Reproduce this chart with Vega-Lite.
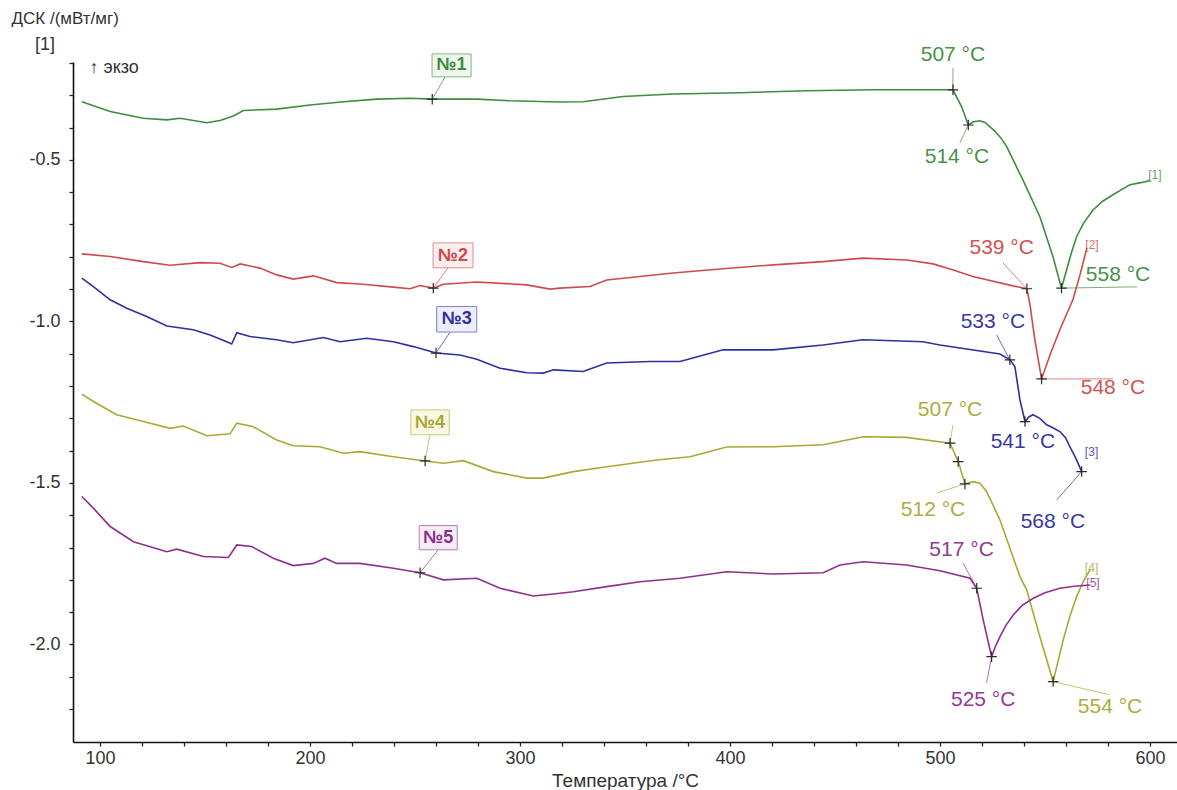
{
  "$schema": "https://vega.github.io/schema/vega-lite/v6.json",
  "width": 1104,
  "height": 680,
  "autosize": "none",
  "padding": {"left": 73, "top": 62, "right": 0, "bottom": 48},
  "background": "white",
  "config": {
    "view": {"stroke": null},
    "font": "Liberation Sans",
    "axis": {
      "domainColor": "#111",
      "domainWidth": 1.6,
      "tickColor": "#222",
      "tickSize": 4,
      "tickWidth": 1.3,
      "grid": false,
      "labelColor": "#333",
      "labelFont": "Liberation Sans",
      "titleFont": "Liberation Sans",
      "titleFontWeight": "normal",
      "titleColor": "#333"
    }
  },
  "datasets": {
    "curves": [
      {"s":"1","t":91.3,"v":-0.320},{"s":"1","t":104.8,"v":-0.350},{"s":"1","t":120.6,"v":-0.371},{"s":"1","t":131.8,"v":-0.376},{"s":"1","t":138.1,"v":-0.371},{"s":"1","t":150.8,"v":-0.385},{"s":"1","t":157.1,"v":-0.378},{"s":"1","t":163.5,"v":-0.364},{"s":"1","t":168.2,"v":-0.347},{"s":"1","t":184.1,"v":-0.343},{"s":"1","t":200,"v":-0.330},{"s":"1","t":215.9,"v":-0.320},{"s":"1","t":231.8,"v":-0.312},{"s":"1","t":247.6,"v":-0.309},{"s":"1","t":258.2,"v":-0.312},{"s":"1","t":279.4,"v":-0.312},{"s":"1","t":295.2,"v":-0.317},{"s":"1","t":319,"v":-0.321},{"s":"1","t":330,"v":-0.320},{"s":"1","t":349,"v":-0.304},{"s":"1","t":372.9,"v":-0.296},{"s":"1","t":404.8,"v":-0.292},{"s":"1","t":436.7,"v":-0.286},{"s":"1","t":468.1,"v":-0.283},{"s":"1","t":506.2,"v":-0.283},{"s":"1","t":510.3,"v":-0.335},{"s":"1","t":513.5,"v":-0.392},{"s":"1","t":516,"v":-0.382},{"s":"1","t":519,"v":-0.379},{"s":"1","t":521.5,"v":-0.384},{"s":"1","t":526,"v":-0.410},{"s":"1","t":529,"v":-0.432},{"s":"1","t":531.8,"v":-0.459},{"s":"1","t":539.5,"v":-0.562},{"s":"1","t":547.6,"v":-0.676},{"s":"1","t":553.8,"v":-0.799},{"s":"1","t":557.9,"v":-0.897},{"s":"1","t":560.3,"v":-0.841},{"s":"1","t":562.5,"v":-0.790},{"s":"1","t":565.1,"v":-0.737},{"s":"1","t":568.5,"v":-0.695},{"s":"1","t":572.9,"v":-0.655},{"s":"1","t":577.5,"v":-0.628},{"s":"1","t":582.4,"v":-0.608},{"s":"1","t":586.5,"v":-0.592},{"s":"1","t":590.5,"v":-0.577},{"s":"1","t":594.5,"v":-0.572},{"s":"1","t":598.4,"v":-0.567},{"s":"1","t":600,"v":-0.562},
      {"s":"2","t":91.3,"v":-0.791},{"s":"2","t":104.8,"v":-0.799},{"s":"2","t":120.6,"v":-0.815},{"s":"2","t":133.3,"v":-0.826},{"s":"2","t":147.6,"v":-0.818},{"s":"2","t":157.1,"v":-0.820},{"s":"2","t":162.7,"v":-0.833},{"s":"2","t":166.7,"v":-0.822},{"s":"2","t":176.2,"v":-0.835},{"s":"2","t":184.1,"v":-0.856},{"s":"2","t":192,"v":-0.869},{"s":"2","t":201.6,"v":-0.859},{"s":"2","t":212.7,"v":-0.880},{"s":"2","t":223.8,"v":-0.884},{"s":"2","t":239.7,"v":-0.894},{"s":"2","t":247.6,"v":-0.899},{"s":"2","t":252.4,"v":-0.889},{"s":"2","t":258.7,"v":-0.897},{"s":"2","t":263.5,"v":-0.885},{"s":"2","t":279.4,"v":-0.878},{"s":"2","t":303.2,"v":-0.887},{"s":"2","t":314.3,"v":-0.900},{"s":"2","t":319,"v":-0.897},{"s":"2","t":333.3,"v":-0.892},{"s":"2","t":341.3,"v":-0.872},{"s":"2","t":372.9,"v":-0.850},{"s":"2","t":396.7,"v":-0.837},{"s":"2","t":420.5,"v":-0.825},{"s":"2","t":444.3,"v":-0.815},{"s":"2","t":463.3,"v":-0.804},{"s":"2","t":484.3,"v":-0.810},{"s":"2","t":496.7,"v":-0.822},{"s":"2","t":506,"v":-0.840},{"s":"2","t":515.7,"v":-0.861},{"s":"2","t":534.8,"v":-0.890},{"s":"2","t":541.4,"v":-0.899},{"s":"2","t":542.9,"v":-0.949},{"s":"2","t":545.2,"v":-1.057},{"s":"2","t":548.4,"v":-1.178},{"s":"2","t":552.4,"v":-1.104},{"s":"2","t":557.1,"v":-1.026},{"s":"2","t":563.3,"v":-0.933},{"s":"2","t":566.7,"v":-0.856},{"s":"2","t":570,"v":-0.772},
      {"s":"3","t":91.3,"v":-0.866},{"s":"3","t":96.8,"v":-0.892},{"s":"3","t":104.8,"v":-0.933},{"s":"3","t":112.7,"v":-0.959},{"s":"3","t":122.2,"v":-0.985},{"s":"3","t":131.8,"v":-1.014},{"s":"3","t":144.4,"v":-1.026},{"s":"3","t":152.4,"v":-1.042},{"s":"3","t":160.3,"v":-1.063},{"s":"3","t":162.7,"v":-1.070},{"s":"3","t":165.1,"v":-1.035},{"s":"3","t":171.4,"v":-1.047},{"s":"3","t":184.1,"v":-1.057},{"s":"3","t":192,"v":-1.066},{"s":"3","t":206.3,"v":-1.050},{"s":"3","t":214.3,"v":-1.063},{"s":"3","t":227,"v":-1.052},{"s":"3","t":239.7,"v":-1.063},{"s":"3","t":249.2,"v":-1.078},{"s":"3","t":260,"v":-1.098},{"s":"3","t":271.4,"v":-1.104},{"s":"3","t":279.4,"v":-1.117},{"s":"3","t":290.5,"v":-1.145},{"s":"3","t":303.2,"v":-1.159},{"s":"3","t":311.1,"v":-1.160},{"s":"3","t":315.9,"v":-1.150},{"s":"3","t":330,"v":-1.155},{"s":"3","t":341.3,"v":-1.129},{"s":"3","t":361.9,"v":-1.124},{"s":"3","t":376.2,"v":-1.124},{"s":"3","t":396.7,"v":-1.088},{"s":"3","t":420.5,"v":-1.088},{"s":"3","t":444.3,"v":-1.073},{"s":"3","t":463.3,"v":-1.057},{"s":"3","t":491.9,"v":-1.063},{"s":"3","t":500,"v":-1.073},{"s":"3","t":528.6,"v":-1.101},{"s":"3","t":533.3,"v":-1.119},{"s":"3","t":535.7,"v":-1.140},{"s":"3","t":538.1,"v":-1.243},{"s":"3","t":540.5,"v":-1.310},{"s":"3","t":542.5,"v":-1.295},{"s":"3","t":544.3,"v":-1.289},{"s":"3","t":547.6,"v":-1.300},{"s":"3","t":550.8,"v":-1.320},{"s":"3","t":554,"v":-1.330},{"s":"3","t":557.1,"v":-1.341},{"s":"3","t":559.8,"v":-1.360},{"s":"3","t":561.9,"v":-1.388},{"s":"3","t":564.8,"v":-1.425},{"s":"3","t":567.5,"v":-1.465},
      {"s":"4","t":91.3,"v":-1.225},{"s":"4","t":96.8,"v":-1.248},{"s":"4","t":107.9,"v":-1.289},{"s":"4","t":120.6,"v":-1.310},{"s":"4","t":133.3,"v":-1.331},{"s":"4","t":139.7,"v":-1.324},{"s":"4","t":150.8,"v":-1.354},{"s":"4","t":161.9,"v":-1.348},{"s":"4","t":165.1,"v":-1.315},{"s":"4","t":173,"v":-1.326},{"s":"4","t":184.1,"v":-1.367},{"s":"4","t":192,"v":-1.385},{"s":"4","t":204.8,"v":-1.388},{"s":"4","t":215.9,"v":-1.408},{"s":"4","t":223.8,"v":-1.403},{"s":"4","t":239.7,"v":-1.419},{"s":"4","t":254.8,"v":-1.432},{"s":"4","t":263.5,"v":-1.439},{"s":"4","t":273,"v":-1.431},{"s":"4","t":287.3,"v":-1.465},{"s":"4","t":303.2,"v":-1.485},{"s":"4","t":310.9,"v":-1.485},{"s":"4","t":325.4,"v":-1.465},{"s":"4","t":341.3,"v":-1.450},{"s":"4","t":365.1,"v":-1.429},{"s":"4","t":381,"v":-1.419},{"s":"4","t":398.4,"v":-1.389},{"s":"4","t":420.6,"v":-1.388},{"s":"4","t":444.4,"v":-1.382},{"s":"4","t":463.5,"v":-1.357},{"s":"4","t":484.1,"v":-1.359},{"s":"4","t":504.8,"v":-1.377},{"s":"4","t":508.7,"v":-1.434},{"s":"4","t":511.9,"v":-1.503},{"s":"4","t":515.9,"v":-1.496},{"s":"4","t":519,"v":-1.501},{"s":"4","t":522,"v":-1.525},{"s":"4","t":525,"v":-1.565},{"s":"4","t":528.6,"v":-1.615},{"s":"4","t":538.1,"v":-1.790},{"s":"4","t":541.3,"v":-1.831},{"s":"4","t":547.6,"v":-1.976},{"s":"4","t":553.9,"v":-2.115},{"s":"4","t":558.7,"v":-1.986},{"s":"4","t":562,"v":-1.910},{"s":"4","t":565.1,"v":-1.852},{"s":"4","t":568.2,"v":-1.806},{"s":"4","t":571.4,"v":-1.769},
      {"s":"5","t":91.3,"v":-1.542},{"s":"5","t":96.8,"v":-1.578},{"s":"5","t":104.8,"v":-1.635},{"s":"5","t":115.9,"v":-1.682},{"s":"5","t":131.8,"v":-1.713},{"s":"5","t":136.5,"v":-1.705},{"s":"5","t":149.2,"v":-1.728},{"s":"5","t":161.1,"v":-1.731},{"s":"5","t":165.1,"v":-1.692},{"s":"5","t":172.2,"v":-1.697},{"s":"5","t":182.5,"v":-1.733},{"s":"5","t":192,"v":-1.756},{"s":"5","t":201.6,"v":-1.749},{"s":"5","t":207.1,"v":-1.733},{"s":"5","t":212.7,"v":-1.749},{"s":"5","t":223.8,"v":-1.749},{"s":"5","t":239.7,"v":-1.764},{"s":"5","t":252.4,"v":-1.778},{"s":"5","t":263.5,"v":-1.800},{"s":"5","t":279.4,"v":-1.795},{"s":"5","t":290.5,"v":-1.826},{"s":"5","t":306.3,"v":-1.850},{"s":"5","t":315.9,"v":-1.844},{"s":"5","t":325.4,"v":-1.837},{"s":"5","t":341.3,"v":-1.821},{"s":"5","t":357.1,"v":-1.806},{"s":"5","t":376.2,"v":-1.795},{"s":"5","t":398.4,"v":-1.775},{"s":"5","t":420.6,"v":-1.782},{"s":"5","t":444.4,"v":-1.778},{"s":"5","t":452.4,"v":-1.754},{"s":"5","t":463.5,"v":-1.744},{"s":"5","t":484.1,"v":-1.754},{"s":"5","t":500,"v":-1.772},{"s":"5","t":514.3,"v":-1.795},{"s":"5","t":517.5,"v":-1.826},{"s":"5","t":520.6,"v":-1.924},{"s":"5","t":524.6,"v":-2.038},{"s":"5","t":526.5,"v":-2.005},{"s":"5","t":528.6,"v":-1.976},{"s":"5","t":531.5,"v":-1.940},{"s":"5","t":534.9,"v":-1.909},{"s":"5","t":539,"v":-1.880},{"s":"5","t":544.4,"v":-1.857},{"s":"5","t":550,"v":-1.840},{"s":"5","t":557.1,"v":-1.826},{"s":"5","t":564,"v":-1.820},{"s":"5","t":571.4,"v":-1.816}
    ],
    "markers": [
      {"s":"1","t":258.2,"v":-0.312},{"s":"1","t":506.2,"v":-0.283},{"s":"1","t":513.5,"v":-0.392},{"s":"1","t":557.9,"v":-0.897},
      {"s":"2","t":258.7,"v":-0.897},{"s":"2","t":541.4,"v":-0.899},{"s":"2","t":548.4,"v":-1.178},
      {"s":"3","t":260,"v":-1.098},{"s":"3","t":533.3,"v":-1.119},{"s":"3","t":540.5,"v":-1.310},{"s":"3","t":567.5,"v":-1.465},
      {"s":"4","t":254.8,"v":-1.432},{"s":"4","t":504.8,"v":-1.377},{"s":"4","t":508.7,"v":-1.434},{"s":"4","t":511.9,"v":-1.503},{"s":"4","t":553.9,"v":-2.115},
      {"s":"5","t":252.4,"v":-1.778},{"s":"5","t":517.5,"v":-1.826},{"s":"5","t":524.6,"v":-2.038}
    ],
    "leaders": [
      {"s":"1","t":258.2,"v":-0.312,"t2":264.3,"v2":-0.243},
      {"s":"1","t":506.2,"v":-0.283,"t2":506.2,"v2":-0.215},
      {"s":"1","t":513.5,"v":-0.392,"t2":509.5,"v2":-0.447},
      {"s":"1","t":557.9,"v":-0.897,"t2":593.8,"v2":-0.893},
      {"s":"2","t":258.7,"v":-0.897,"t2":265.7,"v2":-0.834},
      {"s":"2","t":541.4,"v":-0.899,"t2":530,"v2":-0.819},
      {"s":"2","t":548.4,"v":-1.178,"t2":582.4,"v2":-1.178},
      {"s":"3","t":260,"v":-1.098,"t2":266.7,"v2":-1.033},
      {"s":"3","t":533.3,"v":-1.119,"t2":527,"v2":-1.042},
      {"s":"3","t":567.5,"v":-1.465,"t2":555.6,"v2":-1.553},
      {"s":"4","t":254.8,"v":-1.432,"t2":257.1,"v2":-1.351},
      {"s":"4","t":504.8,"v":-1.377,"t2":506.2,"v2":-1.320},
      {"s":"4","t":511.9,"v":-1.503,"t2":498.6,"v2":-1.531},
      {"s":"4","t":553.9,"v":-2.115,"t2":581,"v2":-2.156},
      {"s":"5","t":252.4,"v":-1.778,"t2":261,"v2":-1.707},
      {"s":"5","t":517.5,"v":-1.826,"t2":511,"v2":-1.748},
      {"s":"5","t":524.6,"v":-2.038,"t2":522.2,"v2":-2.119}
    ],
    "temps": [
      {"s":"1","t":506.2,"v":-0.175,"label":"507 °C"},
      {"s":"1","t":508.1,"v":-0.491,"label":"514 °C"},
      {"s":"1","t":584.8,"v":-0.856,"label":"558 °C"},
      {"s":"2","t":529.4,"v":-0.772,"label":"539 °C"},
      {"s":"2","t":582.4,"v":-1.206,"label":"548 °C"},
      {"s":"3","t":525.2,"v":-1.001,"label":"533 °C"},
      {"s":"3","t":539.5,"v":-1.372,"label":"541 °C"},
      {"s":"3","t":553.8,"v":-1.620,"label":"568 °C"},
      {"s":"4","t":504.8,"v":-1.274,"label":"507 °C"},
      {"s":"4","t":496.7,"v":-1.584,"label":"512 °C"},
      {"s":"4","t":581,"v":-2.193,"label":"554 °C"},
      {"s":"5","t":510.3,"v":-1.707,"label":"517 °C"},
      {"s":"5","t":520.6,"v":-2.172,"label":"525 °C"}
    ],
    "ends": [
      {"s":"1","t":602.4,"v":-0.546,"label":"[1]"},
      {"s":"2","t":572.4,"v":-0.763,"label":"[2]"},
      {"s":"3","t":572.2,"v":-1.403,"label":"[3]"},
      {"s":"4","t":572.2,"v":-1.763,"label":"[4]"},
      {"s":"5","t":572.9,"v":-1.810,"label":"[5]"}
    ],
    "boxes": [
      {"s":"1","t":258.1,"t2":276.7,"v":-0.172,"v2":-0.243,"tc":267.4,"vc":-0.207,"label":"№1"},
      {"s":"2","t":258.6,"t2":277.6,"v":-0.757,"v2":-0.834,"tc":268.1,"vc":-0.796,"label":"№2"},
      {"s":"3","t":260.3,"t2":279.4,"v":-0.954,"v2":-1.033,"tc":269.9,"vc":-0.994,"label":"№3"},
      {"s":"4","t":248,"t2":266.3,"v":-1.274,"v2":-1.351,"tc":257.1,"vc":-1.313,"label":"№4"},
      {"s":"5","t":252,"t2":270.1,"v":-1.632,"v2":-1.707,"tc":261.1,"vc":-1.670,"label":"№5"}
    ],
    "notes": [
      {"t":73.8,"v":-0.144,"label":"[1]"},
      {"t":106.7,"v":-0.215,"label":"↑ экзо"}
    ]
  },
  "layer": [
    {
      "data": {"name": "curves"},
      "mark": {"type": "line", "strokeWidth": 1.6},
      "encoding": {
        "x": {
          "field": "t", "type": "quantitative",
          "scale": {"domain": [87.1, 612.9], "nice": false, "zero": false},
          "axis": {
            "title": "Температура /°C",
            "titleFontSize": 19,
            "titleBaseline": "middle",
            "titleY": 38,
            "values": [100,120,140,160,180,200,220,240,260,280,300,320,340,360,380,400,420,440,460,480,500,520,540,560,580,600],
            "tickCount": 40,
            "labelExpr": "datum.value % 100 === 0 ? format(datum.value, 'd') : ''",
            "labelFontSize": 18,
            "labelOverlap": false,
            "labelBound": false,
            "labelPadding": 3
          }
        },
        "y": {
          "field": "v", "type": "quantitative",
          "scale": {"domain": [-2.302, -0.197], "nice": false, "zero": false},
          "axis": {
            "title": "ДСК /(мВт/мг)",
            "titleFontSize": 17,
            "titleAngle": 0,
            "titleAlign": "left",
            "titleBaseline": "middle",
            "titleX": -62,
            "titleY": -44,
            "values": [-2.2,-2.1,-2.0,-1.9,-1.8,-1.7,-1.6,-1.5,-1.4,-1.3,-1.2,-1.1,-1.0,-0.9,-0.8,-0.7,-0.6,-0.5,-0.4,-0.3,-0.2],
            "tickCount": 40,
            "labelExpr": "abs(datum.value * 2 - round(datum.value * 2)) < 0.01 ? '-' + format(abs(datum.value), '.1f') : ''",
            "labelFontSize": 18,
            "labelOverlap": false,
            "labelBound": false,
            "labelPadding": 9
          }
        },
        "color": {
          "field": "s", "type": "nominal", "legend": null,
          "scale": {"domain": ["1","2","3","4","5"], "range": ["#3f8c3f","#cf4a4a","#2f2fa0","#a9a934","#8e2f8e"]}
        }
      }
    },
    {
      "data": {"name": "leaders"},
      "mark": {"type": "rule", "strokeWidth": 1, "opacity": 0.7},
      "encoding": {
        "x": {"field": "t", "type": "quantitative"},
        "x2": {"field": "t2"},
        "y": {"field": "v", "type": "quantitative"},
        "y2": {"field": "v2"},
        "color": {"field": "s", "type": "nominal", "legend": null}
      }
    },
    {
      "data": {"name": "markers"},
      "mark": {"type": "point", "shape": "M-1,0L1,0M0,-1L0,1", "size": 110, "filled": false, "strokeWidth": 1.2, "opacity": 1},
      "encoding": {
        "x": {"field": "t", "type": "quantitative"},
        "y": {"field": "v", "type": "quantitative"},
        "color": {"value": "#2a2a2a"}
      }
    },
    {
      "data": {"name": "boxes"},
      "mark": {"type": "rect", "strokeWidth": 1},
      "encoding": {
        "x": {"field": "t", "type": "quantitative"},
        "x2": {"field": "t2"},
        "y": {"field": "v", "type": "quantitative"},
        "y2": {"field": "v2"},
        "fill": {
          "field": "s", "type": "nominal", "legend": null,
          "scale": {"domain": ["1","2","3","4","5"], "range": ["#eef6ee","#fbeeee","#eeeefa","#f8f8e4","#f6ecf6"]}
        },
        "stroke": {
          "field": "s", "type": "nominal", "legend": null,
          "scale": {"domain": ["1","2","3","4","5"], "range": ["#7fb57f","#e08f8f","#8080c8","#c8c878","#b77fb7"]}
        }
      }
    },
    {
      "data": {"name": "boxes"},
      "mark": {"type": "text", "fontSize": 18, "fontWeight": "bold", "align": "center", "baseline": "middle"},
      "encoding": {
        "x": {"field": "tc", "type": "quantitative"},
        "y": {"field": "vc", "type": "quantitative"},
        "text": {"field": "label"},
        "color": {"field": "s", "type": "nominal", "legend": null}
      }
    },
    {
      "data": {"name": "temps"},
      "mark": {"type": "text", "fontSize": 21, "align": "center", "baseline": "middle", "opacity": 0.95},
      "encoding": {
        "x": {"field": "t", "type": "quantitative"},
        "y": {"field": "v", "type": "quantitative"},
        "text": {"field": "label"},
        "color": {"field": "s", "type": "nominal", "legend": null}
      }
    },
    {
      "data": {"name": "ends"},
      "mark": {"type": "text", "fontSize": 12, "align": "center", "baseline": "middle", "opacity": 0.8},
      "encoding": {
        "x": {"field": "t", "type": "quantitative"},
        "y": {"field": "v", "type": "quantitative"},
        "text": {"field": "label"},
        "color": {"field": "s", "type": "nominal", "legend": null}
      }
    },
    {
      "data": {"name": "notes"},
      "mark": {"type": "text", "fontSize": 18, "align": "center", "baseline": "middle", "color": "#333"},
      "encoding": {
        "x": {"field": "t", "type": "quantitative"},
        "y": {"field": "v", "type": "quantitative"},
        "text": {"field": "label"}
      }
    }
  ]
}
